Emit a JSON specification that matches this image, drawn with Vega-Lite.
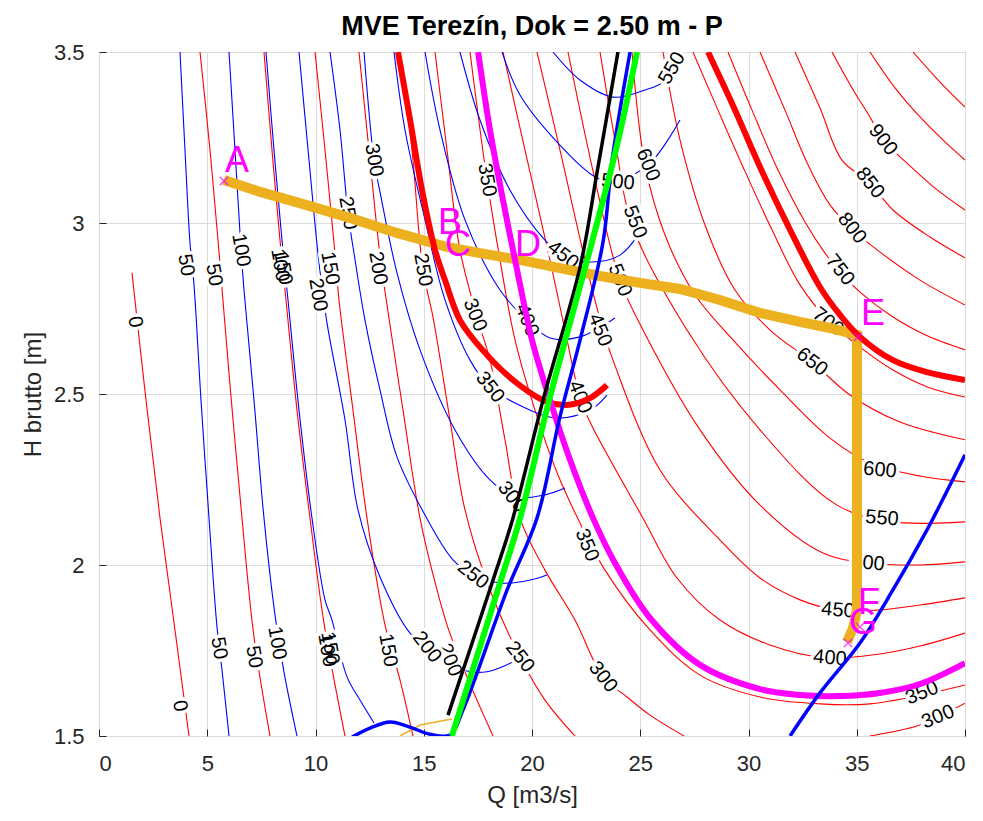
{
"$schema":"https://vega.github.io/schema/vega-lite/v6.json",
"width":866,"height":684,
"autosize":{"type":"none"},
"padding":{"left":99,"top":52,"right":18,"bottom":85},
"background":"white",
"title":{"text":"MVE Terezín, Dok = 2.50 m - P","fontSize":27,"fontWeight":"bold","font":"Liberation Sans","color":"#000000","offset":0},
"config":{"view":{"stroke":"#262626","strokeWidth":1},"font":"Liberation Sans"},
"datasets":{
"red":[
{"c":"R0","i":0,"q":1.524,"h":2.854},{"c":"R0","i":1,"q":2.171,"h":2.482},{"c":"R0","i":2,"q":2.818,"h":2.137},{"c":"R0","i":3,"q":3.51,"h":1.81},{"c":"R0","i":4,"q":4.157,"h":1.5},
{"c":"R50","i":0,"q":4.665,"h":3.5},{"c":"R50","i":1,"q":5.127,"h":3.213},{"c":"R50","i":2,"q":5.543,"h":2.915},{"c":"R50","i":3,"q":6.051,"h":2.526},{"c":"R50","i":4,"q":6.605,"h":2.137},{"c":"R50","i":5,"q":7.159,"h":1.789},{"c":"R50","i":6,"q":7.898,"h":1.5},
{"c":"R100","i":0,"q":7.621,"h":3.5},{"c":"R100","i":1,"q":7.991,"h":3.213},{"c":"R100","i":2,"q":8.36,"h":2.95},{"c":"R100","i":3,"q":8.637,"h":2.775},{"c":"R100","i":4,"q":9.145,"h":2.453},{"c":"R100","i":5,"q":9.746,"h":2.137},{"c":"R100","i":6,"q":10.393,"h":1.83},{"c":"R100","i":7,"q":11.363,"h":1.5},
{"c":"R150","i":0,"q":9.977,"h":3.5},{"c":"R150","i":1,"q":10.439,"h":3.213},{"c":"R150","i":2,"q":10.854,"h":2.942},{"c":"R150","i":3,"q":11.085,"h":2.775},{"c":"R150","i":4,"q":11.732,"h":2.453},{"c":"R150","i":5,"q":12.379,"h":2.137},{"c":"R150","i":6,"q":13.21,"h":1.825},{"c":"R150","i":7,"q":13.903,"h":1.664},{"c":"R150","i":8,"q":14.503,"h":1.5},
{"c":"R200","i":0,"q":12.009,"h":3.5},{"c":"R200","i":1,"q":12.471,"h":3.213},{"c":"R200","i":2,"q":12.933,"h":2.93},{"c":"R200","i":3,"q":13.302,"h":2.76},{"c":"R200","i":4,"q":14.042,"h":2.453},{"c":"R200","i":5,"q":14.827,"h":2.137},{"c":"R200","i":6,"q":15.612,"h":1.927},{"c":"R200","i":7,"q":16.12,"h":1.816},{"c":"R200","i":8,"q":16.905,"h":1.687},{"c":"R200","i":9,"q":17.598,"h":1.585},{"c":"R200","i":10,"q":18.199,"h":1.5},
{"c":"R250","i":0,"q":13.903,"h":3.5},{"c":"R250","i":1,"q":14.457,"h":3.213},{"c":"R250","i":2,"q":14.965,"h":2.863},{"c":"R250","i":3,"q":15.427,"h":2.725},{"c":"R250","i":4,"q":16.212,"h":2.424},{"c":"R250","i":5,"q":16.905,"h":2.161},{"c":"R250","i":6,"q":18.06,"h":1.927},{"c":"R250","i":7,"q":19.446,"h":1.731},{"c":"R250","i":8,"q":20.6,"h":1.605},{"c":"R250","i":9,"q":21.986,"h":1.5},
{"c":"R300a","i":0,"q":15.52,"h":3.5},{"c":"R300a","i":1,"q":16.074,"h":3.213},{"c":"R300a","i":2,"q":16.674,"h":2.921},{"c":"R300a","i":3,"q":17.46,"h":2.725},{"c":"R300a","i":4,"q":18.06,"h":2.599},{"c":"R300a","i":5,"q":18.753,"h":2.366},{"c":"R300a","i":6,"q":19.446,"h":2.137},{"c":"R300a","i":7,"q":20.6,"h":1.985},{"c":"R300a","i":8,"q":21.986,"h":1.839},{"c":"R300a","i":9,"q":23.279,"h":1.673},{"c":"R300a","i":10,"q":24.388,"h":1.614},{"c":"R300a","i":11,"q":25.45,"h":1.561},{"c":"R300a","i":12,"q":27.021,"h":1.5},
{"c":"R300b","i":0,"q":35.612,"h":1.5},{"c":"R300b","i":1,"q":37.783,"h":1.529},{"c":"R300b","i":2,"q":38.753,"h":1.556},{"c":"R300b","i":3,"q":40.0,"h":1.596},
{"c":"R350","i":0,"q":17.136,"h":3.5},{"c":"R350","i":1,"q":17.921,"h":3.126},{"c":"R350","i":2,"q":18.522,"h":2.892},{"c":"R350","i":3,"q":19.215,"h":2.658},{"c":"R350","i":4,"q":20.139,"h":2.453},{"c":"R350","i":5,"q":21.201,"h":2.263},{"c":"R350","i":6,"q":22.217,"h":2.123},{"c":"R350","i":7,"q":23.372,"h":1.985},{"c":"R350","i":8,"q":25.45,"h":1.81},{"c":"R350","i":9,"q":27.76,"h":1.678},{"c":"R350","i":10,"q":30.531,"h":1.614},{"c":"R350","i":11,"q":33.302,"h":1.594},{"c":"R350","i":12,"q":35.612,"h":1.594},{"c":"R350","i":13,"q":38.013,"h":1.62},{"c":"R350","i":14,"q":40.0,"h":1.649},
{"c":"R400","i":0,"q":18.66,"h":3.5},{"c":"R400","i":1,"q":19.677,"h":3.213},{"c":"R400","i":2,"q":20.831,"h":2.892},{"c":"R400","i":3,"q":21.524,"h":2.687},{"c":"R400","i":4,"q":22.217,"h":2.491},{"c":"R400","i":5,"q":22.679,"h":2.418},{"c":"R400","i":6,"q":25.127,"h":2.137},{"c":"R400","i":7,"q":26.697,"h":1.962},{"c":"R400","i":8,"q":28.684,"h":1.839},{"c":"R400","i":9,"q":30.993,"h":1.766},{"c":"R400","i":10,"q":33.626,"h":1.728},{"c":"R400","i":11,"q":36.074,"h":1.74},{"c":"R400","i":12,"q":37.921,"h":1.763},{"c":"R400","i":13,"q":40.0,"h":1.801},
{"c":"R450","i":0,"q":20.231,"h":3.5},{"c":"R450","i":1,"q":21.293,"h":3.213},{"c":"R450","i":2,"q":22.448,"h":2.892},{"c":"R450","i":3,"q":23.279,"h":2.687},{"c":"R450","i":4,"q":23.741,"h":2.599},{"c":"R450","i":5,"q":25.912,"h":2.278},{"c":"R450","i":6,"q":28.684,"h":2.073},{"c":"R450","i":7,"q":30.531,"h":1.962},{"c":"R450","i":8,"q":32.379,"h":1.898},{"c":"R450","i":9,"q":34.134,"h":1.868},{"c":"R450","i":10,"q":35.935,"h":1.868},{"c":"R450","i":11,"q":37.921,"h":1.883},{"c":"R450","i":12,"q":40.0,"h":1.904},
{"c":"R500","i":0,"q":21.663,"h":3.5},{"c":"R500","i":1,"q":22.91,"h":3.126},{"c":"R500","i":2,"q":24.065,"h":2.833},{"c":"R500","i":3,"q":25.127,"h":2.687},{"c":"R500","i":4,"q":27.76,"h":2.395},{"c":"R500","i":5,"q":30.531,"h":2.175},{"c":"R500","i":6,"q":33.441,"h":2.035},{"c":"R500","i":7,"q":35.52,"h":2.006},{"c":"R500","i":8,"q":37.921,"h":2.0},{"c":"R500","i":9,"q":40.0,"h":2.009},
{"c":"R550","i":0,"q":23.141,"h":3.5},{"c":"R550","i":1,"q":23.834,"h":3.243},{"c":"R550","i":2,"q":24.619,"h":2.994},{"c":"R550","i":3,"q":27.159,"h":2.687},{"c":"R550","i":4,"q":30.531,"h":2.395},{"c":"R550","i":5,"q":34.088,"h":2.175},{"c":"R550","i":6,"q":36.674,"h":2.126},{"c":"R550","i":7,"q":40.0,"h":2.126},
{"c":"R600","i":0,"q":24.619,"h":3.5},{"c":"R600","i":1,"q":25.219,"h":3.17},{"c":"R600","i":2,"q":26.143,"h":2.965},{"c":"R600","i":3,"q":27.529,"h":2.79},{"c":"R600","i":4,"q":29.284,"h":2.658},{"c":"R600","i":5,"q":31.455,"h":2.512},{"c":"R600","i":6,"q":33.764,"h":2.371},{"c":"R600","i":7,"q":35.612,"h":2.298},{"c":"R600","i":8,"q":37.921,"h":2.26},{"c":"R600","i":9,"q":40.0,"h":2.243},
{"c":"R650","i":0,"q":26.051,"h":3.5},{"c":"R650","i":1,"q":26.836,"h":3.243},{"c":"R650","i":2,"q":27.991,"h":2.994},{"c":"R650","i":3,"q":29.376,"h":2.804},{"c":"R650","i":4,"q":30.993,"h":2.687},{"c":"R650","i":5,"q":32.933,"h":2.594},{"c":"R650","i":6,"q":34.688,"h":2.497},{"c":"R650","i":7,"q":36.998,"h":2.418},{"c":"R650","i":8,"q":40.0,"h":2.366},
{"c":"R700","i":0,"q":27.436,"h":3.5},{"c":"R700","i":1,"q":28.591,"h":3.33},{"c":"R700","i":2,"q":29.746,"h":3.164},{"c":"R700","i":3,"q":31.085,"h":2.98},{"c":"R700","i":4,"q":32.379,"h":2.819},{"c":"R700","i":5,"q":33.672,"h":2.716},{"c":"R700","i":6,"q":35.15,"h":2.637},{"c":"R700","i":7,"q":36.674,"h":2.57},{"c":"R700","i":8,"q":38.291,"h":2.52},{"c":"R700","i":9,"q":40.0,"h":2.491},
{"c":"R750","i":0,"q":29.053,"h":3.5},{"c":"R750","i":1,"q":30.162,"h":3.33},{"c":"R750","i":2,"q":31.363,"h":3.155},{"c":"R750","i":3,"q":32.61,"h":3.003},{"c":"R750","i":4,"q":33.533,"h":2.912},{"c":"R750","i":5,"q":34.226,"h":2.857},{"c":"R750","i":6,"q":35.15,"h":2.798},{"c":"R750","i":7,"q":36.536,"h":2.731},{"c":"R750","i":8,"q":38.152,"h":2.673},{"c":"R750","i":9,"q":40.0,"h":2.629},
{"c":"R800","i":0,"q":30.531,"h":3.5},{"c":"R800","i":1,"q":31.686,"h":3.33},{"c":"R800","i":2,"q":32.748,"h":3.17},{"c":"R800","i":3,"q":33.764,"h":3.053},{"c":"R800","i":4,"q":34.919,"h":2.974},{"c":"R800","i":5,"q":36.074,"h":2.915},{"c":"R800","i":6,"q":37.921,"h":2.833},{"c":"R800","i":7,"q":40.0,"h":2.76},
{"c":"R850","i":0,"q":32.148,"h":3.5},{"c":"R850","i":1,"q":33.302,"h":3.336},{"c":"R850","i":2,"q":34.318,"h":3.184},{"c":"R850","i":3,"q":35.612,"h":3.117},{"c":"R850","i":4,"q":36.674,"h":3.038},{"c":"R850","i":5,"q":38.383,"h":2.959},{"c":"R850","i":6,"q":40.0,"h":2.898},
{"c":"R900","i":0,"q":33.857,"h":3.5},{"c":"R900","i":1,"q":34.78,"h":3.395},{"c":"R900","i":2,"q":35.612,"h":3.31},{"c":"R900","i":3,"q":36.212,"h":3.243},{"c":"R900","i":4,"q":37.321,"h":3.175},{"c":"R900","i":5,"q":38.614,"h":3.102},{"c":"R900","i":6,"q":40.0,"h":3.038},
{"c":"R950","i":0,"q":35.612,"h":3.5},{"c":"R950","i":1,"q":36.767,"h":3.395},{"c":"R950","i":2,"q":37.921,"h":3.31},{"c":"R950","i":3,"q":39.076,"h":3.237},{"c":"R950","i":4,"q":40.0,"h":3.184},
{"c":"R1000","i":0,"q":37.598,"h":3.5},{"c":"R1000","i":1,"q":38.845,"h":3.412},{"c":"R1000","i":2,"q":40.0,"h":3.339}
],
"blue":[
{"c":"B50","i":0,"q":3.741,"h":3.5},{"c":"B50","i":1,"q":3.972,"h":3.213},{"c":"B50","i":2,"q":4.203,"h":2.942},{"c":"B50","i":3,"q":4.388,"h":2.819},{"c":"B50","i":4,"q":4.711,"h":2.482},{"c":"B50","i":5,"q":5.081,"h":2.137},{"c":"B50","i":6,"q":5.45,"h":1.819},{"c":"B50","i":7,"q":5.681,"h":1.693},{"c":"B50","i":8,"q":6.005,"h":1.5},
{"c":"B100","i":0,"q":6.005,"h":3.5},{"c":"B100","i":1,"q":6.282,"h":3.213},{"c":"B100","i":2,"q":6.513,"h":2.971},{"c":"B100","i":3,"q":6.697,"h":2.804},{"c":"B100","i":4,"q":7.159,"h":2.482},{"c":"B100","i":5,"q":7.621,"h":2.137},{"c":"B100","i":6,"q":8.129,"h":1.854},{"c":"B100","i":7,"q":8.545,"h":1.687},{"c":"B100","i":8,"q":9.145,"h":1.5},
{"c":"B150","i":0,"q":7.714,"h":3.5},{"c":"B150","i":1,"q":8.083,"h":3.213},{"c":"B150","i":2,"q":8.452,"h":2.95},{"c":"B150","i":3,"q":8.73,"h":2.775},{"c":"B150","i":4,"q":9.238,"h":2.453},{"c":"B150","i":5,"q":9.838,"h":2.137},{"c":"B150","i":6,"q":10.439,"h":1.898},{"c":"B150","i":7,"q":10.762,"h":1.839},{"c":"B150","i":8,"q":11.455,"h":1.673},{"c":"B150","i":9,"q":12.055,"h":1.605},{"c":"B150","i":10,"q":12.702,"h":1.538},
{"c":"B200","i":0,"q":9.238,"h":3.5},{"c":"B200","i":1,"q":9.7,"h":3.184},{"c":"B200","i":2,"q":10.162,"h":2.883},{"c":"B200","i":3,"q":10.531,"h":2.708},{"c":"B200","i":4,"q":11.363,"h":2.424},{"c":"B200","i":5,"q":11.963,"h":2.161},{"c":"B200","i":6,"q":12.979,"h":1.965},{"c":"B200","i":7,"q":14.365,"h":1.801},{"c":"B200","i":8,"q":15.15,"h":1.76},{"c":"B200","i":9,"q":16.536,"h":1.699},{"c":"B200","i":10,"q":17.829,"h":1.687},{"c":"B200","i":11,"q":19.307,"h":1.722},
{"c":"B250","i":0,"q":10.67,"h":3.5},{"c":"B250","i":1,"q":11.132,"h":3.272},{"c":"B250","i":2,"q":11.501,"h":3.029},{"c":"B250","i":3,"q":11.778,"h":2.912},{"c":"B250","i":4,"q":12.286,"h":2.716},{"c":"B250","i":5,"q":12.979,"h":2.512},{"c":"B250","i":6,"q":13.764,"h":2.316},{"c":"B250","i":7,"q":15.058,"h":2.146},{"c":"B250","i":8,"q":16.351,"h":2.015},{"c":"B250","i":9,"q":17.275,"h":1.971},{"c":"B250","i":10,"q":18.66,"h":1.947},{"c":"B250","i":11,"q":19.908,"h":1.956},{"c":"B250","i":12,"q":20.693,"h":1.971},
{"c":"B300","i":0,"q":12.24,"h":3.5},{"c":"B300","i":1,"q":12.702,"h":3.184},{"c":"B300","i":2,"q":12.979,"h":3.091},{"c":"B300","i":3,"q":13.764,"h":2.854},{"c":"B300","i":4,"q":14.827,"h":2.629},{"c":"B300","i":5,"q":16.443,"h":2.395},{"c":"B300","i":6,"q":18.06,"h":2.249},{"c":"B300","i":7,"q":19.215,"h":2.199},{"c":"B300","i":8,"q":20.6,"h":2.205},{"c":"B300","i":9,"q":21.524,"h":2.225},
{"c":"B350","i":0,"q":13.626,"h":3.5},{"c":"B350","i":1,"q":14.134,"h":3.272},{"c":"B350","i":2,"q":15.058,"h":3.009},{"c":"B350","i":3,"q":15.982,"h":2.775},{"c":"B350","i":4,"q":17.136,"h":2.599},{"c":"B350","i":5,"q":18.06,"h":2.52},{"c":"B350","i":6,"q":19.215,"h":2.474},{"c":"B350","i":7,"q":21.062,"h":2.43},{"c":"B350","i":8,"q":22.679,"h":2.453},{"c":"B350","i":9,"q":23.464,"h":2.497},
{"c":"B400","i":0,"q":15.058,"h":3.5},{"c":"B400","i":1,"q":15.751,"h":3.272},{"c":"B400","i":2,"q":16.905,"h":3.009},{"c":"B400","i":3,"q":18.522,"h":2.804},{"c":"B400","i":4,"q":19.769,"h":2.716},{"c":"B400","i":5,"q":20.831,"h":2.664},{"c":"B400","i":6,"q":22.217,"h":2.667},{"c":"B400","i":7,"q":23.834,"h":2.722},
{"c":"B450","i":0,"q":16.674,"h":3.5},{"c":"B450","i":1,"q":17.598,"h":3.301},{"c":"B450","i":2,"q":18.984,"h":3.096},{"c":"B450","i":3,"q":20.6,"h":2.95},{"c":"B450","i":4,"q":21.432,"h":2.906},{"c":"B450","i":5,"q":22.679,"h":2.886},{"c":"B450","i":6,"q":24.065,"h":2.906},{"c":"B450","i":7,"q":24.988,"h":2.974},
{"c":"B500","i":0,"q":18.614,"h":3.5},{"c":"B500","i":1,"q":19.446,"h":3.374},{"c":"B500","i":2,"q":21.062,"h":3.243},{"c":"B500","i":3,"q":22.91,"h":3.135},{"c":"B500","i":4,"q":23.834,"h":3.12},{"c":"B500","i":5,"q":25.45,"h":3.175},{"c":"B500","i":6,"q":26.836,"h":3.301},
{"c":"B550","i":0,"q":20.97,"h":3.5},{"c":"B550","i":1,"q":22.217,"h":3.418},{"c":"B550","i":2,"q":23.741,"h":3.368},{"c":"B550","i":3,"q":25.219,"h":3.389},{"c":"B550","i":4,"q":26.051,"h":3.412},{"c":"B550","i":5,"q":26.605,"h":3.471}
],
"redU":[{"i":0,"q":13.81,"h":3.5},{"i":1,"q":14.37,"h":3.301},{"i":2,"q":14.92,"h":3.096},{"i":3,"q":15.52,"h":2.921},{"i":4,"q":15.98,"h":2.833},{"i":5,"q":16.67,"h":2.716},{"i":6,"q":17.6,"h":2.637},{"i":7,"q":19.12,"h":2.541},{"i":8,"q":20.69,"h":2.477},{"i":9,"q":21.62,"h":2.468},{"i":10,"q":22.68,"h":2.488},{"i":11,"q":23.46,"h":2.526}],
"redR":[{"i":0,"q":28.13,"h":3.5},{"i":1,"q":29.38,"h":3.33},{"i":2,"q":30.53,"h":3.164},{"i":3,"q":31.92,"h":2.98},{"i":4,"q":33.3,"h":2.813},{"i":5,"q":34.23,"h":2.731},{"i":6,"q":35.15,"h":2.667},{"i":7,"q":36.67,"h":2.599},{"i":8,"q":38.24,"h":2.564},{"i":9,"q":40.0,"h":2.541}],
"magenta":[{"i":0,"q":17.51,"h":3.5},{"i":1,"q":18.06,"h":3.272},{"i":2,"q":18.66,"h":3.067},{"i":3,"q":19.31,"h":2.863},{"i":4,"q":20.0,"h":2.658},{"i":5,"q":20.83,"h":2.482},{"i":6,"q":21.76,"h":2.307},{"i":7,"q":22.82,"h":2.137},{"i":8,"q":23.83,"h":2.006},{"i":9,"q":25.45,"h":1.845},{"i":10,"q":27.76,"h":1.708},{"i":11,"q":30.53,"h":1.637},{"i":12,"q":32.38,"h":1.62},{"i":13,"q":34.23,"h":1.617},{"i":14,"q":36.07,"h":1.626},{"i":15,"q":37.92,"h":1.652},{"i":16,"q":40.0,"h":1.713}],
"black":[{"i":0,"q":23.97,"h":3.5},{"i":1,"q":23.0,"h":3.146},{"i":2,"q":22.22,"h":2.871},{"i":3,"q":20.51,"h":2.482},{"i":4,"q":19.12,"h":2.137},{"i":5,"q":18.2,"h":1.956},{"i":6,"q":16.12,"h":1.561}],
"green":[{"i":0,"q":24.85,"h":3.5},{"i":1,"q":23.93,"h":3.228},{"i":2,"q":22.77,"h":2.944},{"i":3,"q":20.83,"h":2.491},{"i":4,"q":19.45,"h":2.137},{"i":5,"q":18.52,"h":1.947},{"i":6,"q":16.3,"h":1.5}],
"bluethick":[{"i":0,"q":11.69,"h":1.497},{"i":1,"q":12.52,"h":1.523},{"i":2,"q":13.44,"h":1.541},{"i":3,"q":14.36,"h":1.526},{"i":4,"q":15.29,"h":1.505},{"i":5,"q":16.21,"h":1.503},{"i":6,"q":16.81,"h":1.576},{"i":7,"q":18.85,"h":1.927},{"i":8,"q":20.23,"h":2.137},{"i":9,"q":21.29,"h":2.433},{"i":10,"q":22.22,"h":2.658},{"i":11,"q":23.28,"h":2.944},{"i":12,"q":23.7,"h":3.184},{"i":13,"q":24.53,"h":3.5}],
"blueright":[{"i":0,"q":31.92,"h":1.5},{"i":1,"q":33.3,"h":1.626},{"i":2,"q":35.15,"h":1.772},{"i":3,"q":36.67,"h":1.927},{"i":4,"q":38.24,"h":2.102},{"i":5,"q":39.08,"h":2.205},{"i":6,"q":40.0,"h":2.322}],
"orange":[{"i":0,"q":5.77,"h":3.126},{"i":1,"q":7.44,"h":3.091},{"i":2,"q":9.28,"h":3.058},{"i":3,"q":11.59,"h":3.015},{"i":4,"q":13.76,"h":2.971},{"i":5,"q":16.07,"h":2.93},{"i":6,"q":17.6,"h":2.912},{"i":7,"q":19.45,"h":2.892},{"i":8,"q":21.29,"h":2.868},{"i":9,"q":23.14,"h":2.845},{"i":10,"q":24.99,"h":2.825},{"i":11,"q":26.84,"h":2.807},{"i":12,"q":28.68,"h":2.775},{"i":13,"q":30.53,"h":2.737},{"i":14,"q":32.38,"h":2.711},{"i":15,"q":33.76,"h":2.693},{"i":16,"q":35.01,"h":2.673},{"i":17,"q":35.01,"h":2.336},{"i":18,"q":35.01,"h":2.044},{"i":19,"q":35.01,"h":1.868},{"i":20,"q":34.83,"h":1.816},{"i":21,"q":34.55,"h":1.775}],
"orangethin":[{"i":0,"q":13.9,"h":1.5},{"i":1,"q":14.83,"h":1.532},{"i":2,"q":16.3,"h":1.55}],
"marks":[{"q":5.774,"h":3.123},{"q":35.058,"h":2.667},{"q":35.15,"h":1.819},{"q":34.596,"h":1.772}],
"letters":[{"q":6.374,"h":3.181,"t":"A"},{"q":16.212,"h":3.0,"t":"B"},{"q":16.582,"h":2.936,"t":"C"},{"q":19.815,"h":2.936,"t":"D"},{"q":35.751,"h":2.734,"t":"E"},{"q":35.566,"h":1.889,"t":"F"},{"q":35.289,"h":1.83,"t":"G"}],
"lab80":[{"q":1.663,"h":2.711,"t":"0"},{"q":3.741,"h":1.588,"t":"0"},{"q":4.018,"h":2.877,"t":"50"},{"q":5.312,"h":2.848,"t":"50"},{"q":6.559,"h":2.921,"t":"100"},{"q":8.36,"h":2.877,"t":"100"},{"q":8.499,"h":2.868,"t":"150"},{"q":10.67,"h":2.868,"t":"150"},{"q":10.115,"h":2.79,"t":"200"},{"q":12.886,"h":2.868,"t":"200"},{"q":11.501,"h":3.029,"t":"250"},{"q":14.965,"h":2.863,"t":"250"},{"q":12.702,"h":3.184,"t":"300"},{"q":17.921,"h":3.126,"t":"350"},{"q":5.543,"h":1.757,"t":"50"},{"q":7.159,"h":1.731,"t":"50"},{"q":8.222,"h":1.772,"t":"100"},{"q":10.531,"h":1.751,"t":"100"},{"q":10.67,"h":1.757,"t":"150"},{"q":13.349,"h":1.751,"t":"150"}],
"lab68":[{"q":17.367,"h":2.731,"t":"300"},{"q":22.217,"h":2.491,"t":"400"},{"q":23.141,"h":2.687,"t":"450"},{"q":24.065,"h":2.833,"t":"500"},{"q":24.758,"h":3.003,"t":"550"},{"q":25.358,"h":3.17,"t":"600"},{"q":22.54,"h":2.058,"t":"350"},{"q":16.212,"h":1.722,"t":"200"},{"q":19.769,"h":2.716,"t":"400"}],
"lab52":[{"q":18.06,"h":2.52,"t":"350"},{"q":15.15,"h":1.76,"t":"200"},{"q":19.446,"h":1.731,"t":"250"},{"q":23.279,"h":1.673,"t":"300"},{"q":19.076,"h":2.199,"t":"300"},{"q":36.212,"h":3.243,"t":"900"},{"q":35.612,"h":3.117,"t":"850"},{"q":34.78,"h":2.985,"t":"800"},{"q":34.226,"h":2.863,"t":"750"}],
"lab38":[{"q":33.672,"h":2.711,"t":"700"},{"q":32.933,"h":2.594,"t":"650"},{"q":17.275,"h":1.971,"t":"250"},{"q":21.432,"h":2.906,"t":"450"}],
"lab5":[{"q":36.074,"h":2.278,"t":"600"},{"q":36.166,"h":2.137,"t":"550"},{"q":35.52,"h":2.006,"t":"500"},{"q":34.134,"h":1.868,"t":"450"},{"q":33.764,"h":1.728,"t":"400"},{"q":23.972,"h":3.12,"t":"500"}],
"labm22":[{"q":38.013,"h":1.626,"t":"350"},{"q":38.753,"h":1.556,"t":"300"}],
"labm60":[{"q":26.467,"h":3.453,"t":"550"}]
},
"encoding":{
"x":{"field":"q","type":"quantitative","scale":{"domain":[0,40],"nice":false,"zero":false},
"axis":{"values":[0,5,10,15,20,25,30,35,40],"title":"Q [m3/s]","grid":true,"gridColor":"#dcdcdc","domain":false,"tickSize":-7,"tickColor":"#262626","labelPadding":24,"labelFontSize":22,"labelColor":"#262626","labelFont":"Liberation Sans","titleFont":"Liberation Sans","titleFontSize":24,"titleFontWeight":"normal","titleColor":"#262626","titlePadding":9}},
"y":{"field":"h","type":"quantitative","scale":{"domain":[1.5,3.5],"nice":false,"zero":false},
"axis":{"values":[1.5,2,2.5,3,3.5],"format":"~g","title":"H brutto [m]","grid":true,"gridColor":"#dcdcdc","domain":false,"tickSize":-7,"tickColor":"#262626","labelPadding":22,"labelFontSize":22,"labelColor":"#262626","labelFont":"Liberation Sans","titleFont":"Liberation Sans","titleFontSize":24,"titleFontWeight":"normal","titleColor":"#262626","titlePadding":8}}
},
"layer":[
{"data":{"name":"red"},"mark":{"type":"line","color":"#ff0000","strokeWidth":1.1,"interpolate":"catmull-rom","clip":true},"encoding":{"detail":{"field":"c"},"order":{"field":"i","type":"quantitative"}}},
{"data":{"name":"blue"},"mark":{"type":"line","color":"#0000ff","strokeWidth":1.1,"interpolate":"catmull-rom","clip":true},"encoding":{"detail":{"field":"c"},"order":{"field":"i","type":"quantitative"}}},
{"data":{"name":"lab80"},"mark":{"type":"text","angle":80,"fontSize":20,"stroke":"white","strokeWidth":7,"fill":"white","strokeJoin":"round"},"encoding":{"text":{"field":"t"}}},
{"data":{"name":"lab80"},"mark":{"type":"text","angle":80,"fontSize":20,"fill":"#000000"},"encoding":{"text":{"field":"t"}}},
{"data":{"name":"lab68"},"mark":{"type":"text","angle":68,"fontSize":20,"stroke":"white","strokeWidth":7,"fill":"white","strokeJoin":"round"},"encoding":{"text":{"field":"t"}}},
{"data":{"name":"lab68"},"mark":{"type":"text","angle":68,"fontSize":20,"fill":"#000000"},"encoding":{"text":{"field":"t"}}},
{"data":{"name":"lab52"},"mark":{"type":"text","angle":52,"fontSize":20,"stroke":"white","strokeWidth":7,"fill":"white","strokeJoin":"round"},"encoding":{"text":{"field":"t"}}},
{"data":{"name":"lab52"},"mark":{"type":"text","angle":52,"fontSize":20,"fill":"#000000"},"encoding":{"text":{"field":"t"}}},
{"data":{"name":"lab38"},"mark":{"type":"text","angle":38,"fontSize":20,"stroke":"white","strokeWidth":7,"fill":"white","strokeJoin":"round"},"encoding":{"text":{"field":"t"}}},
{"data":{"name":"lab38"},"mark":{"type":"text","angle":38,"fontSize":20,"fill":"#000000"},"encoding":{"text":{"field":"t"}}},
{"data":{"name":"lab5"},"mark":{"type":"text","angle":5,"fontSize":20,"stroke":"white","strokeWidth":7,"fill":"white","strokeJoin":"round"},"encoding":{"text":{"field":"t"}}},
{"data":{"name":"lab5"},"mark":{"type":"text","angle":5,"fontSize":20,"fill":"#000000"},"encoding":{"text":{"field":"t"}}},
{"data":{"name":"labm22"},"mark":{"type":"text","angle":-22,"fontSize":20,"stroke":"white","strokeWidth":7,"fill":"white","strokeJoin":"round"},"encoding":{"text":{"field":"t"}}},
{"data":{"name":"labm22"},"mark":{"type":"text","angle":-22,"fontSize":20,"fill":"#000000"},"encoding":{"text":{"field":"t"}}},
{"data":{"name":"labm60"},"mark":{"type":"text","angle":-60,"fontSize":20,"stroke":"white","strokeWidth":7,"fill":"white","strokeJoin":"round"},"encoding":{"text":{"field":"t"}}},
{"data":{"name":"labm60"},"mark":{"type":"text","angle":-60,"fontSize":20,"fill":"#000000"},"encoding":{"text":{"field":"t"}}},
{"data":{"name":"orangethin"},"mark":{"type":"line","color":"#EDB120","strokeWidth":1.5,"clip":true},"encoding":{"order":{"field":"i","type":"quantitative"}}},
{"data":{"name":"orange"},"mark":{"type":"line","color":"#EDB120","strokeWidth":10,"clip":true},"encoding":{"order":{"field":"i","type":"quantitative"}}},
{"data":{"name":"redU"},"mark":{"type":"line","color":"#ff0000","strokeWidth":6,"interpolate":"catmull-rom","clip":true},"encoding":{"order":{"field":"i","type":"quantitative"}}},
{"data":{"name":"redR"},"mark":{"type":"line","color":"#ff0000","strokeWidth":6,"interpolate":"catmull-rom","clip":true},"encoding":{"order":{"field":"i","type":"quantitative"}}},
{"data":{"name":"magenta"},"mark":{"type":"line","color":"#ff00ff","strokeWidth":6,"interpolate":"catmull-rom","clip":true},"encoding":{"order":{"field":"i","type":"quantitative"}}},
{"data":{"name":"bluethick"},"mark":{"type":"line","color":"#0000ff","strokeWidth":3.5,"interpolate":"catmull-rom","clip":true},"encoding":{"order":{"field":"i","type":"quantitative"}}},
{"data":{"name":"blueright"},"mark":{"type":"line","color":"#0000ff","strokeWidth":3.5,"interpolate":"catmull-rom","clip":true},"encoding":{"order":{"field":"i","type":"quantitative"}}},
{"data":{"name":"black"},"mark":{"type":"line","color":"#000000","strokeWidth":3.5,"interpolate":"catmull-rom","clip":true},"encoding":{"order":{"field":"i","type":"quantitative"}}},
{"data":{"name":"green"},"mark":{"type":"line","color":"#00ff00","strokeWidth":6,"interpolate":"catmull-rom","clip":true},"encoding":{"order":{"field":"i","type":"quantitative"}}},
{"data":{"name":"marks"},"mark":{"type":"point","shape":"M-1,-1L1,1M-1,1L1,-1","size":70,"stroke":"#ff00ff","strokeWidth":1.5,"filled":false}},
{"data":{"name":"letters"},"mark":{"type":"text","fontSize":36,"fill":"#ff00ff","font":"Liberation Sans"},"encoding":{"text":{"field":"t"}}}
]
}
